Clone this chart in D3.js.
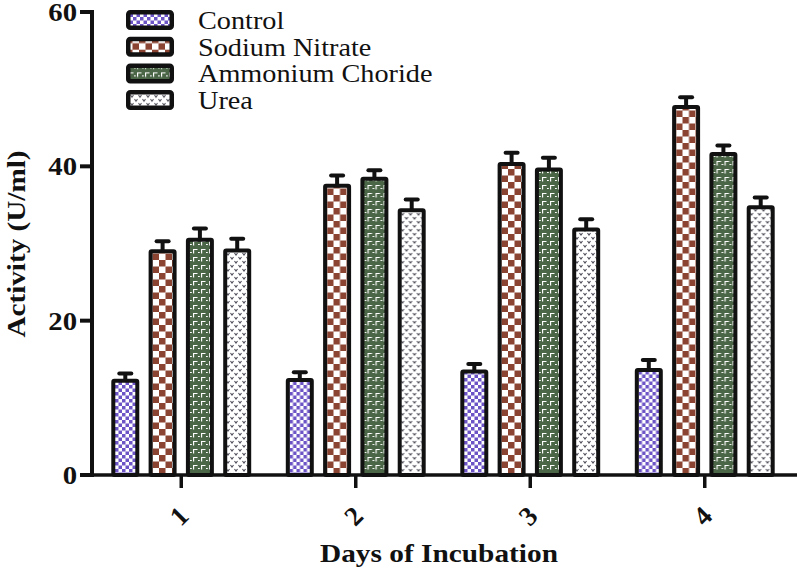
<!DOCTYPE html>
<html>
<head>
<meta charset="utf-8">
<script src="https://cdn.jsdelivr.net/npm/d3@7"></script>
<style>
  body { margin: 0; background: #fff; }
  svg { display: block; }
  text { font-family: "Liberation Serif", "Times New Roman", serif; fill: #111; }
</style>
</head>
<body>
<div id="chart"></div>
<script>
// data
var days = ["1", "2", "3", "4"];
var series = ["Control", "Sodium Nitrate", "Ammonium Choride", "Urea"];
var control  = [12.2, 12.3, 13.4, 13.6];
var sodium   = [29.0, 37.5, 40.3, 47.7];
var ammonium = [30.5, 38.4, 39.6, 41.6];
var urea     = [29.1, 34.3, 31.8, 34.7];
var controlErr  = [0.95, 1.0, 1.0, 1.3];
var sodiumErr   = [1.3, 1.3, 1.45, 1.25];
var ammoniumErr = [1.45, 1.1, 1.5, 1.1];
var ureaErr     = [1.5, 1.4, 1.35, 1.25];
var yTicks = [0, 20, 40, 60];

var values = [control, sodium, ammonium, urea];
var errors = [controlErr, sodiumErr, ammoniumErr, ureaErr];

var W = 799, H = 570;
var svg = d3.select("#chart").append("svg").attr("width", W).attr("height", H);

// patterns
var defs = svg.append("defs");
var p0 = defs.append("pattern").attr("id", "pat0").attr("patternUnits", "userSpaceOnUse")
  .attr("width", 7).attr("height", 7);
p0.append("rect").attr("width", 7).attr("height", 7).attr("fill", "#fff");
p0.append("rect").attr("width", 3.5).attr("height", 3.5).attr("fill", "#6c54c6");
p0.append("rect").attr("x", 3.5).attr("y", 3.5).attr("width", 3.5).attr("height", 3.5).attr("fill", "#6c54c6");

var p1 = defs.append("pattern").attr("id", "pat1").attr("patternUnits", "userSpaceOnUse")
  .attr("width", 13).attr("height", 13);
p1.append("rect").attr("width", 13).attr("height", 13).attr("fill", "#fff");
p1.append("rect").attr("width", 6.5).attr("height", 6.5).attr("fill", "#8a4431");
p1.append("rect").attr("x", 6.5).attr("y", 6.5).attr("width", 6.5).attr("height", 6.5).attr("fill", "#8a4431");

var p2 = defs.append("pattern").attr("id", "pat2").attr("patternUnits", "userSpaceOnUse")
  .attr("width", 8).attr("height", 8);
p2.append("rect").attr("width", 8).attr("height", 8).attr("fill", "#4b6646");
p2.append("path").attr("d", "M3,1.5 H7.5 M3.6,1 V5.5 M0,4.5 H1.8")
  .attr("stroke", "#fff").attr("stroke-width", 1.15).attr("fill", "none");

var p3 = defs.append("pattern").attr("id", "pat3").attr("patternUnits", "userSpaceOnUse")
  .attr("width", 8).attr("height", 8);
p3.append("rect").attr("width", 8).attr("height", 8).attr("fill", "#fff");
p3.append("path").attr("d", "M0.5,1 L2,3 L3.5,1 M4.5,5 L6,7 L7.5,5")
  .attr("stroke", "#4a4a55").attr("stroke-width", 1.1).attr("fill", "none");

// scales
var x0 = d3.scaleBand().domain(days).range([94, 792]);
var x1 = d3.scaleBand().domain(series).range([0, x0.bandwidth()])
  .paddingInner(0.357).paddingOuter(0.5175);
var y = d3.scaleLinear().domain([0, 60]).range([475, 12]);

// bars
var groups = svg.selectAll("g.day").data(days).enter().append("g")
  .attr("class", "day")
  .attr("transform", function(d) { return "translate(" + x0(d) + ",0)"; });

groups.each(function(d, di) {
  var g = d3.select(this);
  series.forEach(function(s, si) {
    var v = values[si][di], e = errors[si][di];
    var cx = x1(s) + x1.bandwidth() / 2;
    g.append("line")
      .attr("x1", cx).attr("x2", cx).attr("y1", y(v)).attr("y2", y(v + e))
      .attr("stroke", "#111").attr("stroke-width", 4);
    g.append("line")
      .attr("x1", cx - 6).attr("x2", cx + 6).attr("y1", y(v + e)).attr("y2", y(v + e))
      .attr("stroke", "#111").attr("stroke-width", 4).attr("stroke-linecap", "round");
    g.append("rect")
      .attr("x", x1(s)).attr("width", x1.bandwidth())
      .attr("y", y(v)).attr("height", y(0) - y(v))
      .attr("fill", "url(#pat" + si + ")")
      .attr("stroke", "#111").attr("stroke-width", 4).attr("rx", 1);
  });
});

// y axis
var yAxis = svg.append("g");
yAxis.append("line").attr("x1", 92).attr("x2", 92).attr("y1", 10).attr("y2", 477)
  .attr("stroke", "#111").attr("stroke-width", 4);
yAxis.selectAll("line.tick").data(yTicks).enter().append("line")
  .attr("x1", 80).attr("x2", 92).attr("y1", function(d) { return y(d); }).attr("y2", function(d) { return y(d); })
  .attr("stroke", "#111").attr("stroke-width", 4);
yAxis.selectAll("text").data(yTicks).enter().append("text")
  .attr("transform", function(d) { return "translate(77," + (y(d) + 9) + ") scale(1.15,1)"; })
  .attr("text-anchor", "end").attr("font-size", 25).attr("font-weight", "bold")
  .text(function(d) { return d; });

// x axis
var xAxis = svg.append("g");
xAxis.append("line").attr("x1", 90).attr("x2", 797).attr("y1", 475).attr("y2", 475)
  .attr("stroke", "#111").attr("stroke-width", 3.5);
xAxis.selectAll("line.tick").data(days).enter().append("line")
  .attr("x1", function(d) { return x0(d) + x0.bandwidth() / 2; })
  .attr("x2", function(d) { return x0(d) + x0.bandwidth() / 2; })
  .attr("y1", 475).attr("y2", 488)
  .attr("stroke", "#111").attr("stroke-width", 3.5);
xAxis.selectAll("text").data(days).enter().append("text")
  .attr("transform", function(d) { return "translate(" + (x0(d) + x0.bandwidth() / 2 - 2) + ",516) rotate(-45)"; })
  .attr("text-anchor", "middle").attr("dominant-baseline", "central")
  .attr("font-size", 27).attr("font-weight", "bold")
  .text(function(d) { return d; });

// axis titles
svg.append("text")
  .attr("x", 439).attr("y", 562)
  .attr("text-anchor", "middle").attr("font-size", 26).attr("font-weight", "bold")
  .attr("textLength", 238).attr("lengthAdjust", "spacingAndGlyphs")
  .text("Days of Incubation");
svg.append("text")
  .attr("transform", "translate(25,244) rotate(-90)")
  .attr("text-anchor", "middle").attr("font-size", 25).attr("font-weight", "bold")
  .attr("textLength", 187).attr("lengthAdjust", "spacingAndGlyphs")
  .text("Activity (U/ml)");

// legend
var legend = svg.selectAll("g.leg").data(series).enter().append("g")
  .attr("class", "leg")
  .attr("transform", function(d, i) { return "translate(126," + (10 + i * 26.7) + ")"; });
legend.append("rect")
  .attr("x", 2.25).attr("y", 2.25).attr("width", 43.5).attr("height", 15.5).attr("rx", 2)
  .attr("fill", function(d, i) { return "url(#pat" + i + ")"; })
  .attr("stroke", "#111").attr("stroke-width", 4.5);
legend.append("text")
  .attr("transform", "translate(72,19) scale(1.13,1)")
  .attr("font-size", 25)
  .text(function(d) { return d; });
</script>
</body>
</html>
